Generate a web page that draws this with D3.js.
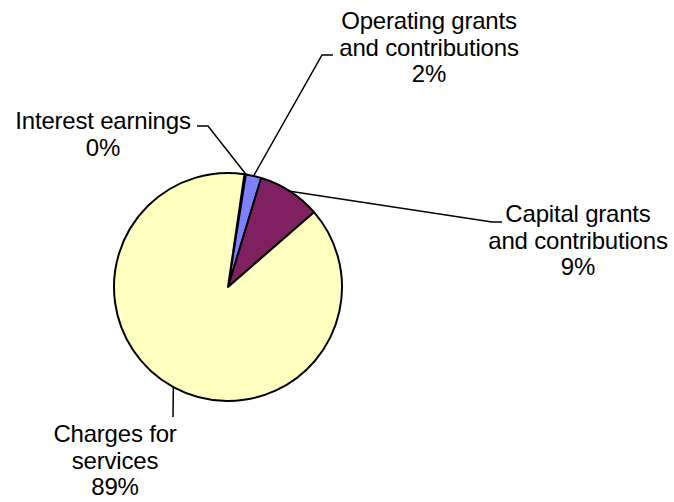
<!DOCTYPE html>
<html>
<head>
<meta charset="utf-8">
<script src="https://cdn.jsdelivr.net/npm/d3@7"></script>
<style>
  body { margin: 0; background: #fff; }
  text { font-family: "Liberation Sans", Arial, sans-serif; fill: #000; }
</style>
</head>
<body>
<svg id="chart" width="674" height="502"></svg>
<script>
// slice data, clockwise from the first slice
var categories = ["Interest earnings", "Operating grants and contributions", "Capital grants and contributions", "Charges for services"];
var values = [0.2, 2.2, 8.9, 88.7];
var pctLabels = ["0%", "2%", "9%", "89%"];
var colors = ["#8080ff", "#8080ff", "#802060", "#ffffc0"];

// label text lines + where the leader line bends / ends
var labelLines = [
    ["Interest earnings", "0%"],
    ["Operating grants", "and contributions", "2%"],
    ["Capital grants", "and contributions", "9%"],
    ["Charges for", "services", "89%"]
];
var labelPos = [[103, 129], [429, 29], [578, 222], [115, 442]];
var leaderBend = [[208, 126], [322, 55], [492, 222], null];
var leaderEnd = [[197, 126], [333, 55], [502, 222], [173, 417]];

var svg = d3.select("#chart");
var cx = 228, cy = 287, r = 114;
var startDeg = 8.3;

var pie = d3.pie()
    .sort(null)
    .value(function(d) { return d; })
    .startAngle(startDeg * Math.PI / 180)
    .endAngle((startDeg + 360) * Math.PI / 180);

var arcs = pie(values);
var arc = d3.arc().innerRadius(0).outerRadius(r);

var g = svg.append("g").attr("transform", "translate(" + cx + "," + cy + ")");

g.selectAll("path")
    .data(arcs)
    .enter()
    .append("path")
    .attr("d", arc)
    .attr("fill", function(d, i) { return colors[i]; })
    .attr("stroke", "#000")
    .attr("stroke-width", 2)
    .attr("stroke-linejoin", "round");

// leader lines
arcs.forEach(function(d, i) {
    var a = (d.startAngle + d.endAngle) / 2;
    if (i == 0) a = d.startAngle + 0.015;
    var px = cx + r * Math.sin(a), py = cy - r * Math.cos(a);
    var pts = [[px, py]];
    if (leaderBend[i]) pts.push(leaderBend[i]);
    pts.push(leaderEnd[i]);
    svg.append("path")
        .attr("d", d3.line()(pts))
        .attr("fill", "none")
        .attr("stroke", "#000")
        .attr("stroke-width", 1.5);
});

// labels
labelLines.forEach(function(lines, i) {
    var t = svg.append("text")
        .attr("x", labelPos[i][0])
        .attr("y", labelPos[i][1])
        .attr("text-anchor", "middle")
        .style("font-size", "24px")
        .style("letter-spacing", "-0.2px");
    lines.forEach(function(s, j) {
        t.append("tspan")
            .attr("x", labelPos[i][0])
            .attr("dy", j == 0 ? 0 : 26.5)
            .text(s);
    });
});
</script>
</body>
</html>
